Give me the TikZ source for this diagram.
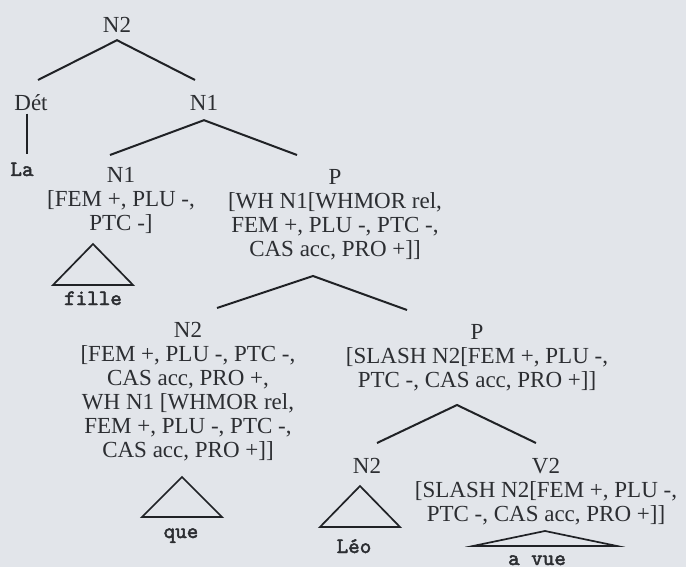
\documentclass[tikz,border=0pt]{standalone}
\usepackage{fontspec}
\setmainfont{Liberation Serif}
\newfontfamily\trWordFont{Latin Modern Mono}[AutoFakeBold=2.2]

\definecolor{trPaper}{HTML}{E2E5EA}
\definecolor{trInk}{HTML}{2C2E32}
\definecolor{trLine}{HTML}{202226}

% Roof over a lexical item: word node, x offset, half width, height (px),
% lift of the base above the baseline (pt).
\newcommand\trRoof[5]{%
  \draw[tr roof] ([xshift=#2pt,yshift=#5pt]#1.base) ++(-#3,0)
    -- ++(#3,-#4) -- ++(#3,#4) -- cycle;}

\begin{document}
\begin{tikzpicture}[
  x=.5pt, y=-.5pt, % one unit = one pixel of the scan, y runs downward
  font=\fontsize{11.5}{12}\selectfont, text=trInk,
  tr cat/.style={inner sep=0pt},
  tr feat/.style={inner sep=0pt,anchor=north,align=center},
  tr word/.style={inner sep=0pt,anchor=base,
    font=\trWordFont\bfseries\fontsize{11}{12}\selectfont},
  tr branch/.style={draw=trLine,line width=1pt,line join=miter},
  tr roof/.style={draw=trLine,line width=.85pt,line join=miter}
]
\fill[trPaper] (0,0) rectangle (686,567);
\useasboundingbox (0,0) rectangle (686,567);

% Categories and feature bundles.
\node[tr cat] (top) at (117,25) {N2};
\node[tr cat] (det) at (31,103) {Dét};
\node[tr cat] (nbar) at (204,103) {N1};
\node[tr feat] (nsub) at (121,167) {N1\\{[}FEM +, PLU -,\\PTC -]};
\node[tr feat] (prel) at (335,169)
  {P\\{[}WH N1[WHMOR rel,\\FEM +, PLU -, PTC -,\\CAS acc, PRO +]]};
\node[tr feat] (nwh) at (188,322)
  {N2\\{[}FEM +, PLU -, PTC -,\\CAS acc, PRO +,\\WH N1 [WHMOR rel,\\FEM +, PLU -, PTC -,\\CAS acc, PRO +]]};
\node[tr feat] (pslash) at (477,324)
  {P\\{[}SLASH N2[FEM +, PLU -,\\PTC -, CAS acc, PRO +]]};
\node[tr cat] (nleo) at (367,466) {N2};
\node[tr feat] (vslash) at (546,458)
  {V2\\{[}SLASH N2[FEM +, PLU -,\\PTC -, CAS acc, PRO +]]};

% Lexical items.
\node[tr word] (la) at (22,176) {La};
\node[tr word] (fille) at (93,305) {fille};
\node[tr word] (que) at (181,538) {que};
\node[tr word] (leo) at (354,553) {Léo};
\node[tr word] (avue) at (537,565) {a vue};

% Free ends of the branches.
\coordinate (top-l) at (38,80);
\coordinate (top-r) at (195,80);
\coordinate (nbar-l) at (110,155);
\coordinate (nbar-r) at (297,155);
\coordinate (prel-l) at (217,308);
\coordinate (prel-r) at (407,310);
\coordinate (pslash-l) at (377,443);
\coordinate (pslash-r) at (536,443);
\coordinate (det-end) at (27,154);

\draw[tr branch] (top-l) -- ([yshift=-3.6pt]top.south) -- (top-r);
\draw[tr branch] (nbar-l) -- ([yshift=-4.6pt]nbar.south) -- (nbar-r);
\draw[tr branch] (prel-l) -- ([xshift=-11pt,yshift=-7.8pt]prel.south) -- (prel-r);
\draw[tr branch] (pslash-l) -- ([xshift=-10pt,yshift=-6.8pt]pslash.south) -- (pslash-r);
\draw[tr branch] ([xshift=-2pt,yshift=-1pt]det.south) -- (det-end);

% Roofs.
\trRoof{fille}{0}{40}{41}{10}
\trRoof{que}{.5}{40}{40}{10.5}
\trRoof{leo}{3}{40}{41}{13}
\trRoof{avue}{4}{72}{15}{9.5}
\end{tikzpicture}
\end{document}
